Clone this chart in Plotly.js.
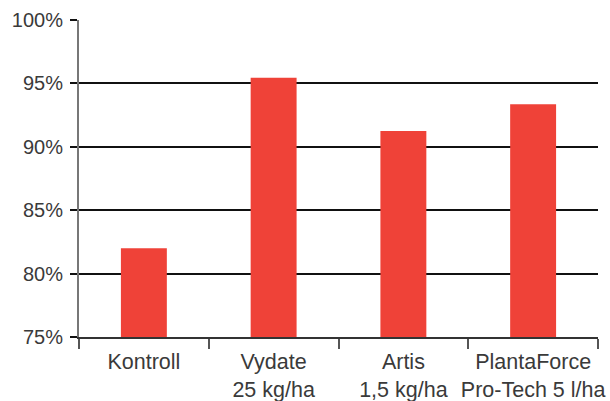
<!DOCTYPE html>
<html>
<head>
<meta charset="utf-8">
<script src="https://cdn.plot.ly/plotly-3.0.1.min.js"></script>
<style>html,body{margin:0;padding:0;background:#fff;}#chart{width:610px;height:401px;}</style>
</head>
<body>
<div id="chart"></div>
<script>
var categories = ["Kontroll", "Vydate<br>25 kg/ha", "Artis<br>1,5 kg/ha", "PlantaForce<br>Pro-Tech 5 l/ha"];
var values = [82.0, 95.45, 91.25, 93.35];
var yTickVals = [75, 80, 85, 90, 95, 100];
var yTickText = ["75%", "80%", "85%", "90%", "95%", "100%"];

var trace = {
  type: "bar",
  x: categories,
  y: values.map(function(v){ return v - 75; }),
  base: 75,
  marker: {color: "#ef4238"},
  hoverinfo: "skip"
};

var layout = {
  width: 610, height: 401,
  margin: {l: 79, r: 12, t: 20, b: 64},
  paper_bgcolor: "#ffffff",
  plot_bgcolor: "#ffffff",
  bargap: 0.646,
  showlegend: false,
  font: {family: "Liberation Sans, Arial, sans-serif", size: 20, color: "#3a3a3a"},
  xaxis: {
    type: "category",
    showline: true, linecolor: "#333333", linewidth: 2,
    ticks: "outside", tickson: "boundaries", ticklen: 10, tickwidth: 2, tickcolor: "#555555",
    tickangle: 0,
    ticklabelstandoff: 4,
    showgrid: false,
    tickfont: {size: 21.5, color: "#3a3a3a"},
    fixedrange: true
  },
  yaxis: {
    range: [75, 100],
    tickvals: yTickVals, ticktext: yTickText,
    showgrid: true, gridcolor: "#111111", gridwidth: 2,
    zeroline: false,
    showline: true, linecolor: "#777777", linewidth: 2,
    ticks: "outside", ticklen: 7, tickwidth: 2, tickcolor: "#111111",
    ticklabelstandoff: 3,
    tickfont: {size: 20, color: "#3a3a3a"},
    fixedrange: true
  }
};

Plotly.newPlot("chart", [trace], layout, {displayModeBar: false, staticPlot: true});
</script>
</body>
</html>
